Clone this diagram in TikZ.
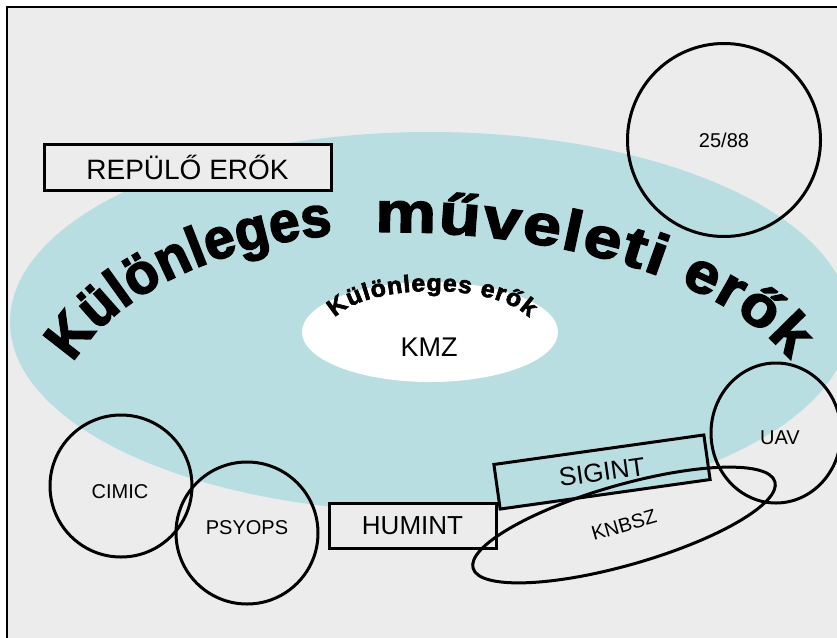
\documentclass[tikz,border=0pt]{standalone}
\usepackage{fontspec}
\setmainfont{Liberation Sans}
\newfontfamily\heavyfont{Liberation Sans Bold}[FakeBold=2.5,FakeStretch=1.04]
\newfontfamily\heavynarrow{Liberation Sans Bold}[FakeBold=2.8,FakeStretch=0.96]
\newfontfamily\heavywide{Liberation Sans Bold}[FakeBold=2.8,FakeStretch=1.2]
\newfontfamily\heavyplain{Liberation Sans Bold}[FakeBold=2.8,FakeStretch=1.08]
\usetikzlibrary{decorations.text,shapes.geometric}
\definecolor{tealbg}{HTML}{B8DEE2}
\definecolor{graybg}{HTML}{ECECEC}
\begin{document}
\begin{tikzpicture}[x=1pt,y=-1pt,
  outl/.style={draw=black,line width=3pt},
  ring/.style={outl,circle,inner sep=0pt},
  boxnode/.style={outl,rectangle,inner sep=0pt},
  lbl/.style={font=\fontsize{#1}{#1}\selectfont},
  arctext/.style={decorate,decoration={text along path,text align=fit to path,text={#1}}}]
\useasboundingbox (0,0) rectangle (837,637);
\fill[white] (0,0) rectangle (837,637);
\fill[graybg] (7,7) rectangle (850,650);
\draw[line width=2.5pt] (7,660) -- (7,7) -- (860,7);
% big teal field
\fill[tealbg] (430,322) ellipse [x radius=420, y radius=190];
% inner white field
\node[ellipse,fill=white,minimum width=256,minimum height=100,inner sep=0pt] (inner) at (430,332) {};
% curved title, word by word along one arch
\coordinate (w1) at (73.1,362.9);
\coordinate (w2) at (375.1,232.1);
\coordinate (w3) at (679.8,284.2);
\path[arctext={|\heavynarrow\fontsize{57}{57}\selectfont|Különleges}]
  (w1) arc[start angle=-160.6,end angle=-99.8,x radius=336,y radius=196];
\path[arctext={|\heavywide\fontsize{57}{57}\selectfont|műveleti}]
  (w2) arc[start angle=-92,end angle=-50.7,x radius=426.5,y radius=196];
\path[arctext={|\heavyplain\fontsize{57}{57}\selectfont|erők}]
  (w3) arc[start angle=-47.2,end angle=-20.3,x radius=426.5,y radius=196];
\coordinate (smallstart) at (335,318);
\path[arctext={|\heavyfont\fontsize{24}{24}\selectfont|Különleges erők}]
  (smallstart) arc[start angle=-162,end angle=-18,x radius=102,y radius=39];
\node[lbl=27] (kmz) at (429,347) {KMZ};
% boxes
\node[boxnode,fill=graybg,minimum width=287,minimum height=46,lbl=28] (rep) at (187.5,167) {REPÜLŐ ERŐK};
\node[boxnode,fill=graybg,minimum width=167,minimum height=45,lbl=26] (hum) at (412.5,525.5) {HUMINT};
\node[boxnode,fill=tealbg,rotate=8,minimum width=212,minimum height=45,lbl=26] (sig) at (602,472) {SIGINT};
% circles
\node[ring,minimum size=193,lbl=20] (c2588) at (724,140) {25/88};
\node[ring,minimum size=142] (cimic) at (121,486) {};
\node[lbl=20] (cimict) at (120,492) {CIMIC};
\node[ring,minimum size=142] (psy) at (247,533) {};
\node[lbl=20] (psyt) at (247,528) {PSYOPS};
\node[outl,ellipse,inner sep=0pt,minimum width=130,minimum height=140] (uav) at (776,433) {};
\node[lbl=20] (uavt) at (780,438) {UAV};
\node[outl,ellipse,inner sep=0pt,rotate=16,minimum width=314,minimum height=80,lbl=20] (knbsz) at (624,525) {KNBSZ};
\end{tikzpicture}
\end{document}
